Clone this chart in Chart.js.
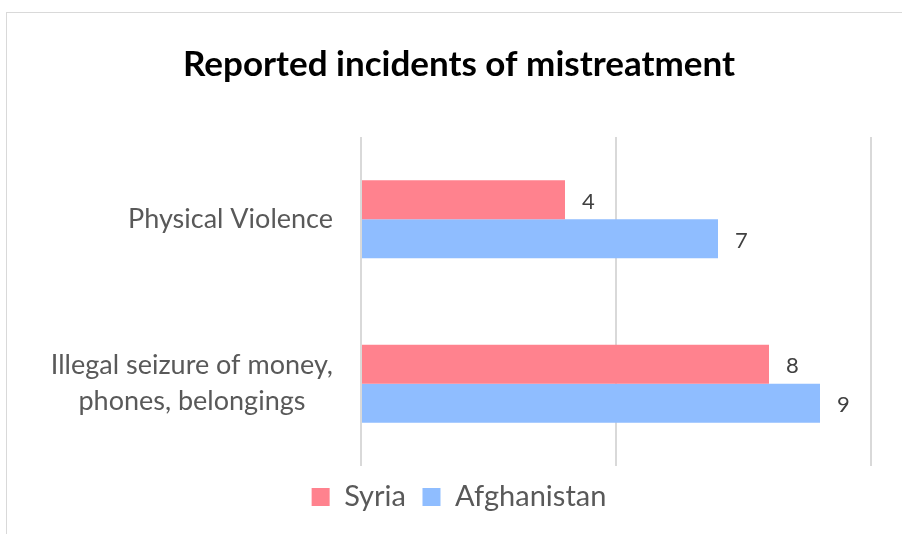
<!DOCTYPE html>
<html>
<head>
<meta charset="utf-8">
<script src="https://cdn.jsdelivr.net/npm/chart.js@4"></script>
<style>
  html, body { margin: 0; padding: 0; background: #ffffff; }
  #wrap { position: relative; width: 902px; height: 534px; overflow: hidden; }
  #frame { position: absolute; left: 6px; top: 12px; width: 1000px; height: 600px; border: 1px solid #d9d9d9; box-sizing: border-box; }
  #chart { position: absolute; left: 0; top: 0; }
</style>
</head>
<body>
<div id="wrap">
  <div id="frame"></div>
  <canvas id="chart" width="902" height="534"></canvas>
</div>
<script>
const CATEGORIES = [
  "Physical Violence",
  ["Illegal seizure of money,", "phones, belongings"]
];
const SERIES_NAMES = ["Syria", "Afghanistan"];
const SYRIA = [4, 8];
const AFGHANISTAN = [7, 9];
const X_TICKS = [0, 5, 10];

const COLORS = ["#ff828e", "#8fbdff"];
const FONT = "Lato, 'Noto Sans', sans-serif";

// writes the value just past the end of each bar
const valueLabels = {
  id: "valueLabels",
  afterDatasetsDraw(chart) {
    const ctx = chart.ctx;
    ctx.save();
    ctx.font = "22px " + FONT;
    ctx.fillStyle = "#404040";
    ctx.textAlign = "left";
    ctx.textBaseline = "middle";
    chart.data.datasets.forEach((ds, i) => {
      chart.getDatasetMeta(i).data.forEach((bar, j) => {
        ctx.fillText(String(ds.data[j]), bar.x + 17, bar.y + 2);
      });
    });
    ctx.restore();
  }
};

// category names: each block sits right against the axis, its lines centred on each other
const categoryLabels = {
  id: "categoryLabels",
  afterDraw(chart) {
    const ctx = chart.ctx;
    const yScale = chart.scales.y;
    const right = yScale.right - 28;
    const lineHeight = 36;
    ctx.save();
    ctx.font = "27px " + FONT;
    ctx.fillStyle = "#595959";
    ctx.textAlign = "center";
    ctx.textBaseline = "middle";
    chart.data.labels.forEach((label, i) => {
      const lines = Array.isArray(label) ? label : [label];
      const blockWidth = Math.max(...lines.map((l) => ctx.measureText(l).width));
      const cx = right - blockWidth / 2;
      const y0 = yScale.getPixelForTick(i) - (lines.length - 1) * lineHeight / 2;
      lines.forEach((line, k) => {
        ctx.fillText(line, cx, y0 + k * lineHeight);
      });
    });
    ctx.restore();
  }
};

new Chart(document.getElementById("chart"), {
  type: "bar",
  data: {
    labels: CATEGORIES,
    datasets: [
      { label: SERIES_NAMES[0], data: SYRIA, backgroundColor: COLORS[0] },
      { label: SERIES_NAMES[1], data: AFGHANISTAN, backgroundColor: COLORS[1] }
    ]
  },
  options: {
    indexAxis: "y",
    responsive: false,
    animation: false,
    layout: { padding: { left: 47, right: 31, top: 0, bottom: 12.5 } },
    datasets: {
      bar: { categoryPercentage: 0.475, barPercentage: 1.0 }
    },
    scales: {
      x: {
        min: X_TICKS[0],
        max: X_TICKS[X_TICKS.length - 1],
        afterBuildTicks(scale) {
          scale.ticks = X_TICKS.map((v) => ({ value: v }));
        },
        ticks: { display: false },
        border: { display: false },
        grid: { color: "#d9d9d9", lineWidth: 2, drawTicks: false }
      },
      y: {
        afterFit(scale) { scale.width = 314; },
        ticks: { display: false },
        border: { display: false },
        grid: { display: false, drawTicks: false }
      }
    },
    plugins: {
      title: {
        display: true,
        text: "Reported incidents of mistreatment",
        color: "#000000",
        font: { family: FONT, size: 35, weight: "bold", lineHeight: 1.2 },
        padding: { top: 44, bottom: 51 }
      },
      legend: {
        position: "bottom",
        labels: {
          boxWidth: 18,
          boxHeight: 18,
          padding: 16.5,
          color: "#595959",
          font: { family: FONT, size: 29 }
        }
      },
      tooltip: { enabled: false }
    }
  },
  plugins: [valueLabels, categoryLabels]
});
</script>
</body>
</html>
